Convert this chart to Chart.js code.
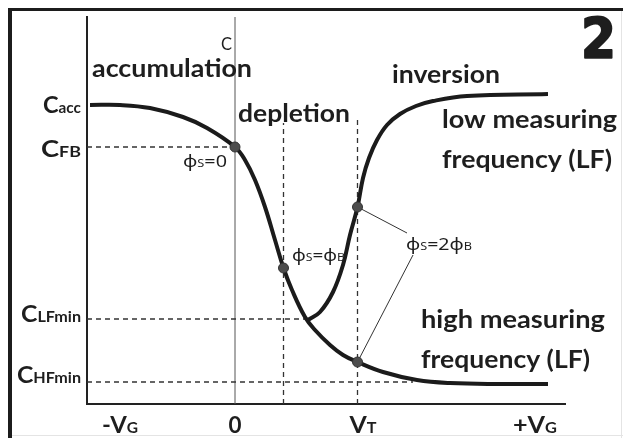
<!DOCTYPE html>
<html><head><meta charset="utf-8">
<script src="https://cdn.jsdelivr.net/npm/chart.js@4.4.0/dist/chart.umd.min.js"></script>
<style>html,body{margin:0;padding:0;background:#fff;overflow:hidden}#wrap{width:623px;height:438px;position:relative}</style>
</head><body><div id="wrap"><canvas id="c" width="623" height="438"></canvas></div>
<script>
// Axes (arbitrary units): x = gate voltage, y = capacitance
const VG_MIN = -2.96, VG_MAX = 6.6, C_MAX = 3.87;
const V_FB = 0, V_PHIB = 0.97, V_T = 2.45;
const C_ACC = 2.99, C_FB = 2.57, C_LFMIN = 0.85, C_HFMIN = 0.22;

// accumulation -> depletion -> high-frequency branch
const hfX = [-2.9, -2.3, -1.7, -1.04, -0.56, 0, 0.2, 0.4, 0.6, 0.8, 0.97, 1.14, 1.4, 1.6, 1.9, 2.16, 2.45, 2.96, 3.64, 4.3, 5.3, 6.26];
const hfY = [2.99, 2.99, 2.96, 2.87, 2.76, 2.57, 2.44, 2.24, 1.97, 1.64, 1.36, 1.14, 0.87, 0.74, 0.59, 0.49, 0.42, 0.32, 0.24, 0.21, 0.2, 0.2];
// low-frequency inversion branch
const lfX = [1.46, 1.7, 1.96, 2.16, 2.3, 2.45, 2.56, 2.68, 2.84, 3.04, 3.3, 3.62, 3.96, 4.64, 6.26];
const lfY = [0.84, 0.92, 1.12, 1.39, 1.69, 1.97, 2.26, 2.46, 2.64, 2.79, 2.9, 2.98, 3.03, 3.08, 3.1];
// marked surface potential points
const markX = [0, 0.97, 2.45, 2.45];
const markY = [2.57, 1.36, 1.97, 0.42];
// guide line end points
const cfbEnd = 0, clfEnd = 1.5, chfEnd = 3.56;
const phibTop = 2.81, vtTop = 2.87;
const leader1 = [[2.45, 1.97], [3.44, 1.71]];
const leader2 = [[2.45, 0.42], [3.56, 1.49]];

const pts = (xs, ys) => xs.map((x, i) => ({x, y: ys[i]}));
const seg = (a, b) => [{x: a[0], y: a[1]}, {x: b[0], y: b[1]}];

const INK = '#1b1b1b';
const dashed = {borderColor: '#333', borderWidth: 1.3, borderDash: [5, 4], pointRadius: 0, showLine: true, fill: false, order: 5};
const curve = {borderColor: INK, borderWidth: 4, pointRadius: 0, showLine: true, tension: 0.4, borderCapStyle: 'butt', order: 1};
const datasets = [
  {data: pts(markX, markY), pointRadius: 5, pointBackgroundColor: '#4d4d4d', pointBorderColor: '#333', pointBorderWidth: 1, showLine: false, order: 0},
  Object.assign({data: pts(hfX, hfY)}, curve),
  Object.assign({data: pts(lfX, lfY)}, curve),
  Object.assign({data: seg([VG_MIN, C_FB], [cfbEnd, C_FB])}, dashed),
  Object.assign({data: seg([VG_MIN, C_LFMIN], [clfEnd, C_LFMIN])}, dashed),
  Object.assign({data: seg([VG_MIN, C_HFMIN], [chfEnd, C_HFMIN])}, dashed),
  Object.assign({data: seg([V_PHIB, 0], [V_PHIB, phibTop])}, dashed),
  Object.assign({data: seg([V_T, 0], [V_T, vtTop])}, dashed),
  {data: seg([V_FB, 0], [V_FB, C_MAX]), borderColor: '#555', borderWidth: 1, pointRadius: 0, showLine: true, order: 6},
  {data: seg(leader1[0], leader1[1]), borderColor: '#333', borderWidth: 1, pointRadius: 0, showLine: true, order: 4},
  {data: seg(leader2[0], leader2[1]), borderColor: '#333', borderWidth: 1, pointRadius: 0, showLine: true, order: 4}
];

// text annotations: parts [text, fontKey], anchor in data units, target width px
const FONT = "Lato, 'Open Sans', sans-serif";
const PFONT = "'Noto Sans', 'DejaVu Sans', sans-serif";
const F = {
  R: 'bold 24px ' + FONT, A: 'bold 23px ' + FONT, As: 'bold 15px ' + FONT,
  P: '17px ' + PFONT, Ps: '11px ' + PFONT, C: '17px ' + FONT, BIG: "bold 56px 'DejaVu Sans', sans-serif"
};
const regionText = [
  {parts: [['accumulation', 'R']], x: -2.86, y: 3.27, w: 160},
  {parts: [['depletion', 'R']], x: 0.06, y: 2.82, w: 112},
  {parts: [['inversion', 'R']], x: 3.14, y: 3.21, w: 108},
  {parts: [['low measuring', 'R']], x: 4.14, y: 2.76, w: 175},
  {parts: [['frequency (LF)', 'R']], x: 4.14, y: 2.36, w: 170},
  {parts: [['high measuring', 'R']], x: 3.72, y: 0.76, w: 184},
  {parts: [['frequency (LF)', 'R']], x: 3.72, y: 0.36, w: 169},
  {parts: [['ϕ', 'P'], ['S', 'Ps'], ['=0', 'P']], x: -1.04, y: 2.37, w: 44},
  {parts: [['ϕ', 'P'], ['S', 'Ps'], ['=ϕ', 'P'], ['B', 'Ps']], x: 1.14, y: 1.43, w: 53},
  {parts: [['ϕ', 'P'], ['S', 'Ps'], ['=2ϕ', 'P'], ['B', 'Ps']], x: 3.42, y: 1.54, w: 66},
  {parts: [['C', 'C']], x: -0.06, y: 3.54, w: 11, align: 'right'},
  {parts: [['2', 'BIG']], x: 6.92, y: 3.47, w: 35, stroke: 2}
];
const yTickText = [
  {parts: [['C', 'A'], ['acc', 'As']], y: 2.91, w: 38},
  {parts: [['C', 'A'], ['FB', 'As']], y: 2.47, w: 40},
  {parts: [['C', 'A'], ['LFmin', 'As']], y: 0.82, w: 60},
  {parts: [['C', 'A'], ['HFmin', 'As']], y: 0.21, w: 64}
];
const xTickText = [
  {parts: [['-V', 'A'], ['G', 'As']], x: -2.3, w: 36},
  {parts: [['0', 'A']], x: 0, w: 13},
  {parts: [['V', 'A'], ['T', 'As']], x: 2.56, w: 27},
  {parts: [['+V', 'A'], ['G', 'As']], x: 6.0, w: 44}
];

function drawRich(ctx, parts, x, y, align, targetW, stroke) {
  let w = 0;
  const ws = parts.map(p => { ctx.font = F[p[1]]; const m = ctx.measureText(p[0]).width; w += m; return m; });
  const sx = targetW ? targetW / w : 1;
  const tot = w * sx;
  const x0 = align === 'right' ? x - tot : align === 'center' ? x - tot / 2 : x;
  ctx.save();
  ctx.translate(x0, y); ctx.scale(sx, 1);
  ctx.textBaseline = 'alphabetic'; ctx.textAlign = 'left';
  let cx = 0;
  parts.forEach((p, i) => {
    ctx.font = F[p[1]]; ctx.fillText(p[0], cx, 0);
    if (stroke) { ctx.lineWidth = stroke; ctx.strokeStyle = ctx.fillStyle; ctx.lineJoin = 'round'; ctx.strokeText(p[0], cx, 0); }
    cx += ws[i];
  });
  ctx.restore();
}

const framePlugin = {
  id: 'frame',
  beforeDraw(chart) {
    const ctx = chart.ctx, W = chart.width, H = chart.height;
    ctx.save();
    ctx.fillStyle = '#fff'; ctx.fillRect(0, 0, W, H);
    ctx.fillStyle = '#e4e4e4';
    ctx.fillRect(W - 2, 8, 1, H - 8); ctx.fillRect(8, H - 3, W - 8, 1);
    ctx.fillStyle = '#1c1c1c';
    ctx.fillRect(8, 8, 4, H - 8); ctx.fillRect(8, 8, W - 8, 3);
    ctx.restore();
  }
};
const textPlugin = {
  id: 'texts',
  afterDraw(chart) {
    const ctx = chart.ctx, xs = chart.scales.x, ys = chart.scales.y;
    ctx.save(); ctx.fillStyle = '#1e1e1e';
    regionText.forEach(t => drawRich(ctx, t.parts, xs.getPixelForValue(t.x), ys.getPixelForValue(t.y), t.align || 'left', t.w, t.stroke));
    yTickText.forEach(t => drawRich(ctx, t.parts, xs.left - 6, ys.getPixelForValue(t.y), 'right', t.w));
    xTickText.forEach(t => drawRich(ctx, t.parts, xs.getPixelForValue(t.x), ys.bottom + 29, 'center', t.w));
    ctx.restore();
  }
};

new Chart(document.getElementById('c'), {
  type: 'scatter',
  data: {datasets},
  options: {
    responsive: false, animation: false, devicePixelRatio: 1,
    layout: {padding: {left: 87, right: 58, top: 17, bottom: 34}},
    plugins: {legend: {display: false}, tooltip: {enabled: false}},
    scales: {
      x: {type: 'linear', min: VG_MIN, max: VG_MAX, ticks: {display: false}, grid: {display: false, drawTicks: false}, border: {display: true, color: '#222', width: 2}},
      y: {type: 'linear', min: 0, max: C_MAX, ticks: {display: false}, grid: {display: false, drawTicks: false}, border: {display: true, color: '#222', width: 2}}
    }
  },
  plugins: [framePlugin, textPlugin]
});
</script></body></html>
